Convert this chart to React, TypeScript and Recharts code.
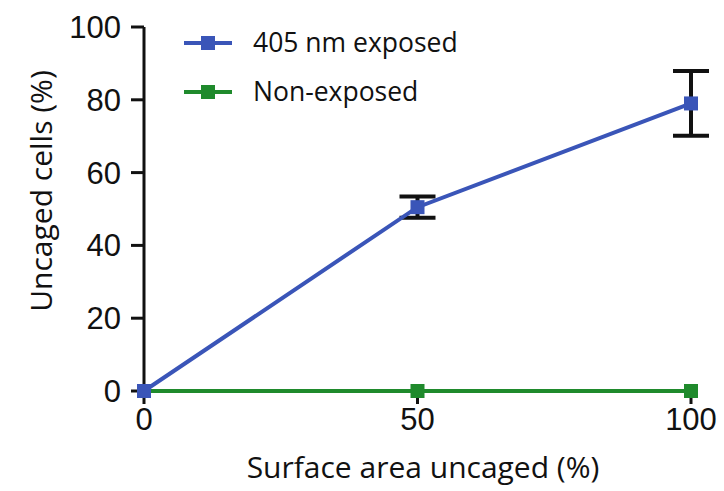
import React from 'react';
import {
  LineChart,
  Line,
  XAxis,
  YAxis,
  ErrorBar,
} from 'recharts';

const AREA_UNCAGED = [0, 50, 100];
const EXPOSED = [0, 50.5, 79];
const EXPOSED_SEM = [0, 2.9, 8.9];
const NON_EXPOSED = [0, 0, 0];
const Y_TICKS = [0, 20, 40, 60, 80, 100];
const X_TICKS = [0, 50, 100];

const BLUE = '#3a55b8';
const GREEN = '#1f8a2c';
const INK = '#111';

const data = AREA_UNCAGED.map((x, i) => ({
  area: x,
  exposed: EXPOSED[i],
  exposedErr: EXPOSED_SEM[i],
  nonExposed: NON_EXPOSED[i],
}));

const SERIES = [
  { key: 'exposed', name: '405 nm exposed', color: BLUE },
  { key: 'nonExposed', name: 'Non-exposed', color: GREEN },
];

const squareDot = (color: string) => (props: any) => {
  const { cx, cy, index } = props;
  if (cx == null || cy == null) return <g key={index} />;
  return <rect key={index} x={cx - 7} y={cy - 7} width={14} height={14} fill={color} />;
};

// legend sits over the plot, so keep it out of the chart's layout
const LegendBox = () => (
  <svg width={360} height={110} style={{ position: 'absolute', left: 182, top: 25 }}>
    {SERIES.map((s, i) => {
      const y = 18 + i * 49;
      return (
        <g key={s.key}>
          <line x1={2} x2={50} y1={y} y2={y} stroke={s.color} strokeWidth={4} />
          <rect x={19} y={y - 7} width={14} height={14} fill={s.color} />
          <text
            x={71}
            y={y + 9}
            fontSize={26.5}
            fontFamily="'Open Sans', sans-serif"
            fill={INK}
          >
            {s.name}
          </text>
        </g>
      );
    })}
  </svg>
);

const tickStyle = { fontSize: 31, fill: INK, fontFamily: "'Liberation Sans', Arial, sans-serif" };
const titleFont = "'Open Sans', sans-serif";

export default function App() {
  return (
    <div style={{ position: 'absolute', left: 0, top: 0, width: 724, height: 491, background: '#fff' }}>
      <LineChart
        width={724}
        height={491}
        data={data}
        margin={{ top: 27, right: 33, left: 0, bottom: 0 }}
      >
        <XAxis
          dataKey="area"
          type="number"
          domain={[0, 100]}
          ticks={X_TICKS}
          height={100}
          axisLine={false}
          tickLine={{ stroke: INK, strokeWidth: 3 }}
          tickSize={13}
          tickMargin={4}
          tick={tickStyle}
          label={{
            value: 'Surface area uncaged (%)',
            content: () => (
              <text x={423} y={478} textAnchor="middle" fontSize={30} fontFamily={titleFont} fill={INK}>
                Surface area uncaged (%)
              </text>
            ),
          }}
        />
        <YAxis
          type="number"
          domain={[0, 100]}
          ticks={Y_TICKS}
          width={144}
          stroke={INK}
          strokeWidth={3}
          tickSize={13}
          tickMargin={10}
          tick={tickStyle}
          label={{
            value: 'Uncaged cells (%)',
            content: () => (
              <text
                x={40}
                y={191}
                transform="rotate(-90 40 191)"
                textAnchor="middle"
                dominantBaseline="central"
                fontSize={30}
                fontFamily={titleFont}
                fill={INK}
              >
                Uncaged cells (%)
              </text>
            ),
          }}
        />
        <Line
          dataKey="nonExposed"
          name="Non-exposed"
          stroke={GREEN}
          strokeWidth={4}
          dot={squareDot(GREEN)}
          activeDot={false}
          isAnimationActive={false}
        />
        <Line
          dataKey="exposed"
          name="405 nm exposed"
          stroke={BLUE}
          strokeWidth={4}
          dot={squareDot(BLUE)}
          activeDot={false}
          isAnimationActive={false}
        >
          <ErrorBar dataKey="exposedErr" width={18} stroke={INK} strokeWidth={4} direction="y" />
        </Line>
      </LineChart>
      <LegendBox />
    </div>
  );
}
